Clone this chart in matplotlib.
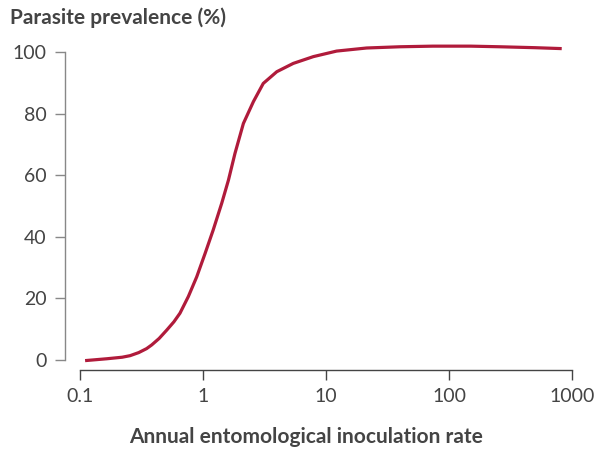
import matplotlib
matplotlib.use("Agg")
import matplotlib.pyplot as plt

# Data
eir = [0.11, 0.165, 0.22, 0.255, 0.30, 0.348, 0.383, 0.44, 0.507, 0.58, 0.65, 0.76, 0.889,
       1.04, 1.21, 1.42, 1.61, 1.82, 2.13, 2.57, 3.09, 3.98, 5.42, 7.89, 12.2,
       21.4, 40, 74, 150, 258, 500, 825]
prevalence = [-0.2, 0.4, 0.9, 1.4, 2.4, 3.7, 4.9, 7.0, 9.7, 12.4, 15.2, 20.6, 27.0,
              34.6, 42.2, 50.9, 58.4, 67.1, 76.8, 83.9, 89.8, 93.6, 96.3, 98.5, 100.3,
              101.3, 101.7, 101.9, 101.9, 101.7, 101.4, 101.1]
xticks = [0.1, 1, 10, 100, 1000]
xtick_labels = ["0.1", "1", "10", "100", "1000"]
yticks = [0, 20, 40, 60, 80, 100]

plt.rcParams['font.family'] = ['Lato', 'DejaVu Sans']
text_color = '#444444'

fig = plt.figure(figsize=(5.94, 4.51), dpi=100)
ax = fig.add_axes([80/594, 1-360/451, 492/594, 308/451])
ax.plot(eir, prevalence, color='#b01b3b', lw=2.3, clip_on=False,
        solid_capstyle='butt', solid_joinstyle='round')
ax.set_xscale('log')
ax.set_xlim(0.1, 1000)
ax.set_ylim(0, 100)
ax.set_xticks(xticks)
ax.set_xticklabels(xtick_labels)
ax.minorticks_off()
ax.set_yticks(yticks)

for s in ['top', 'right']:
    ax.spines[s].set_visible(False)
ax.spines['left'].set_position(('outward', 11))
ax.spines['bottom'].set_position(('outward', 7))
ax.spines['left'].set_color('#888888')
ax.spines['bottom'].set_color('#444444')
ax.spines['left'].set_linewidth(1.0)
ax.spines['bottom'].set_linewidth(1.0)
ax.tick_params(axis='y', length=7, width=1.0, color='#888888', labelsize=14,
               labelcolor=text_color, pad=6)
ax.tick_params(axis='x', length=7, width=1.0, color='#444444', labelsize=14,
               labelcolor=text_color, pad=6)

fig.text(10/594, 1-18/451, 'Parasite prevalence (%)', fontsize=15, fontweight='bold',
         color=text_color, ha='left', va='center')
fig.text(306/594, 1-437/451, 'Annual entomological inoculation rate', fontsize=15,
         fontweight='bold', color=text_color, ha='center', va='center')

fig.savefig('out.png', dpi=100)
